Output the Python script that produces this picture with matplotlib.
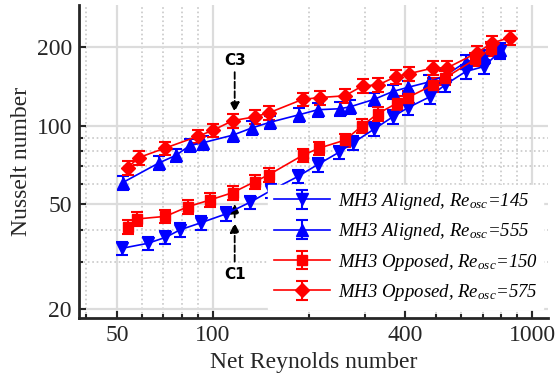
import numpy as np
import matplotlib
matplotlib.use('Agg')
import matplotlib.pyplot as plt
from matplotlib.ticker import FixedLocator, NullFormatter, FixedFormatter

plt.rcParams['font.family'] = ['Liberation Serif', 'DejaVu Serif']
plt.rcParams['mathtext.fontset'] = 'custom'
plt.rcParams['mathtext.rm'] = 'Liberation Serif'
plt.rcParams['mathtext.it'] = 'Liberation Serif:italic'

# MH3 Aligned, Re_osc=145
re_a145 = [52, 62.5, 71, 79, 92, 110, 131, 152, 185, 213, 248, 275, 320, 366, 408, 479, 533, 620, 705, 794]
nu_a145 = [34, 35.5, 37.4, 40, 42.6, 46, 51, 56.5, 64, 71, 79, 86, 97, 108, 117, 129, 143, 161, 168, 192]
# MH3 Aligned, Re_osc=555
re_a555 = [52.2, 67.7, 76.6, 84.7, 93, 115.5, 132.5, 151, 186, 213, 250, 269, 320, 366, 408, 477, 533, 620, 705, 794]
nu_a555 = [60.6, 72, 77, 84, 86, 92, 98, 103, 110, 115, 116, 118, 126, 135, 140, 147, 155, 175, 183, 195]
# MH3 Opposed, Re_osc=150
re_o150 = [54, 58, 71, 83.5, 98, 115.5, 135, 150, 191, 215, 259, 294, 328, 378, 408, 489, 533, 662, 745]
nu_o150 = [41, 44, 45, 49, 52, 55.5, 61, 65, 77, 82, 88, 100, 111, 122, 128, 143, 152, 179, 197]
# MH3 Opposed, Re_osc=575
re_o575 = [54, 58.6, 70.7, 89.7, 100, 115.5, 135, 150, 191, 216, 259, 295, 329, 375, 412, 489, 541, 673, 750, 853]
nu_o575 = [69, 75.5, 82, 91, 96, 104.5, 108, 112, 126, 128, 130, 142, 143, 154, 158, 166, 166, 190, 207, 217]

rel_err = 0.06

fig = plt.figure(figsize=(5.55, 3.85), dpi=100)
ax = fig.add_axes([0.142, 0.174, 0.845, 0.813])

series = [
    (re_a145, nu_a145, 'v', 'blue', 8.5, 'MH3 Aligned, Re$_{osc}$=145'),
    (re_a555, nu_a555, '^', 'blue', 8.5, 'MH3 Aligned, Re$_{osc}$=555'),
    (re_o150, nu_o150, 's', 'red', 7, 'MH3 Opposed, Re$_{osc}$=150'),
    (re_o575, nu_o575, 'D', 'red', 7, 'MH3 Opposed, Re$_{osc}$=575'),
]
for x, y, m, c, ms, lab in series:
    y = np.array(y)
    ax.errorbar(x, y, yerr=y * rel_err, fmt='-' + m, color=c, ms=ms, lw=1.2,
                elinewidth=1.5, capsize=4.5, capthick=1.5, label=lab, zorder=3)

ax.set_xscale('log')
ax.set_yscale('log')
ax.set_xlim(38, 1120)
ax.set_ylim(18.4, 289)

ax.xaxis.set_major_locator(FixedLocator([50, 100, 400, 1000]))
ax.xaxis.set_major_formatter(FixedFormatter(['50', '100', '400', '1000']))
ax.xaxis.set_minor_locator(FixedLocator([40, 60, 70, 80, 90, 200, 300, 500, 600, 700, 800, 900]))
ax.xaxis.set_minor_formatter(NullFormatter())
ax.yaxis.set_major_locator(FixedLocator([20, 50, 100, 200]))
ax.yaxis.set_major_formatter(FixedFormatter(['20', '50', '100', '200']))
ax.yaxis.set_minor_locator(FixedLocator([30, 40, 60, 70, 80, 90]))
ax.yaxis.set_minor_formatter(NullFormatter())

ax.grid(which='major', color='#dcdcdc', lw=1.6, ls='-', zorder=0)
ax.grid(which='minor', color='#c8c8c8', lw=1.2, ls=':', zorder=0)
ax.set_axisbelow(True)

for s in ['top', 'right']:
    ax.spines[s].set_visible(False)
for s in ['left', 'bottom']:
    ax.spines[s].set_linewidth(2)
    ax.spines[s].set_color('#262626')
ax.tick_params(which='both', direction='in', colors='#262626', labelsize=17, width=1.5)
ax.tick_params(which='major', length=5, pad=5)
ax.tick_params(which='minor', length=3)

ax.set_xlabel('Net Reynolds number', fontsize=17, color='#262626', labelpad=4)
ax.set_ylabel('Nusselt number', fontsize=17, color='#262626', labelpad=3)

# annotations
ax.text(117, 178, 'C3', family='DejaVu Sans', fontweight='bold', fontsize=11, ha='center', va='center')
ax.annotate('', xy=(117, 110), xytext=(117, 164),
            arrowprops=dict(arrowstyle='-|>', ls='--', lw=1.3, color='black', mutation_scale=14))
ax.text(117, 27, 'C1', family='DejaVu Sans', fontweight='bold', fontsize=11, ha='center', va='center')
ax.annotate('', xy=(117, 43.5), xytext=(117, 29.5),
            arrowprops=dict(arrowstyle='-|>', ls='--', lw=1.3, color='black', mutation_scale=14))
ax.annotate('', xy=(117, 51.5), xytext=(117, 43.5),
            arrowprops=dict(arrowstyle='-|>', ls='--', lw=1.3, color='black', mutation_scale=14))

leg = ax.legend(loc='lower right', bbox_to_anchor=(1.01, 0.0), frameon=True, framealpha=1,
                edgecolor='white', fancybox=False, handlelength=3.0, handletextpad=0.4,
                labelspacing=0.5, borderpad=0.3, prop={'size': 13.5, 'style': 'italic'})
leg.set_zorder(5)

fig.savefig('out.png', dpi=100)
